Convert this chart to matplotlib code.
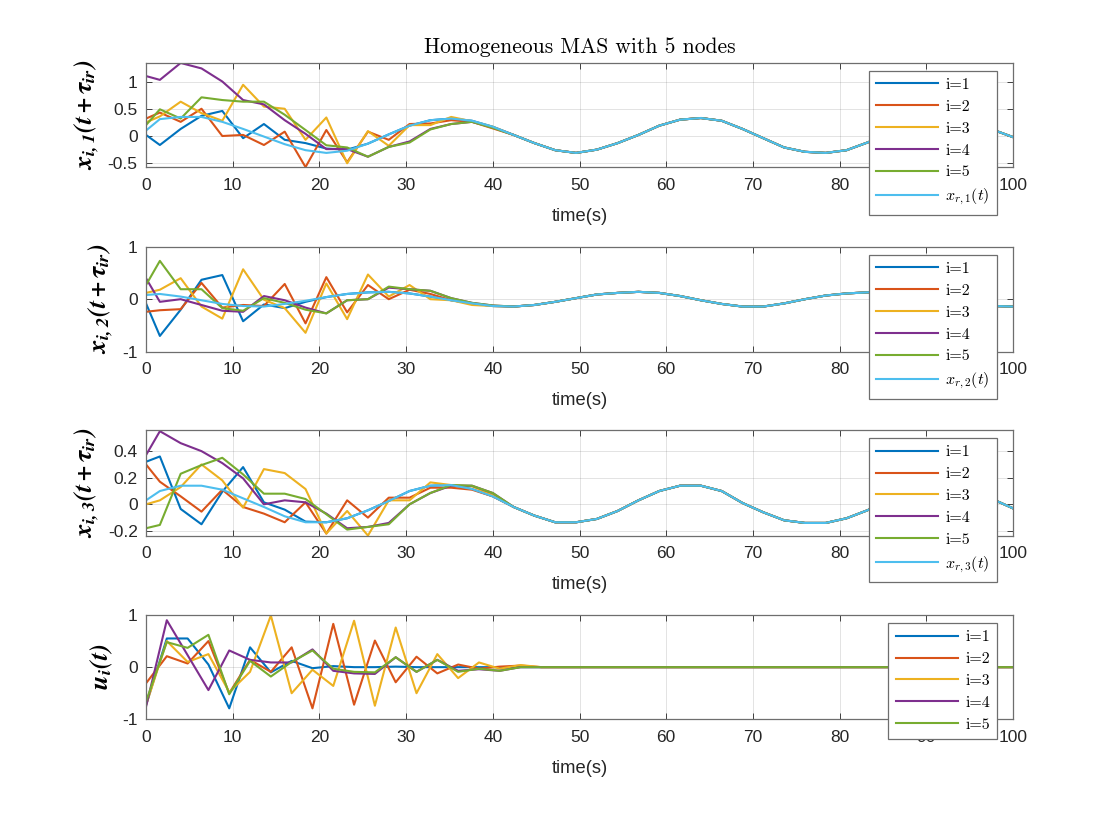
import matplotlib
matplotlib.use("Agg")
import matplotlib.pyplot as plt

plt.rcParams["font.family"] = ["Liberation Sans", "DejaVu Sans"]
plt.rcParams["mathtext.fontset"] = "cm"
plt.rcParams["axes.unicode_minus"] = False

# sample times of the states (shifted by tau) and of the inputs
t_x = [0, 1.6, 4.0, 6.4, 8.8, 11.2, 13.6, 16.0, 18.4, 20.8, 23.2, 25.6, 28.0,
       30.4, 32.8, 35.2, 37.6, 40.0, 42.4, 44.8, 47.2, 49.6, 52.0, 54.4, 56.8,
       59.2, 61.6, 64.0, 66.4, 68.8, 71.2, 73.6, 76.0, 78.4, 80.8, 83.2, 85.6,
       88.0, 90.4, 92.8, 95.2, 97.6, 100.0]
t_u = [0, 2.4, 4.8, 7.2, 9.6, 12.0, 14.4, 16.8, 19.2, 21.6, 24.0, 26.4, 28.8,
       31.2, 33.6, 36.0, 38.4, 40.8, 43.2, 45.6, 48.0, 50.4, 52.8, 55.2, 57.6,
       60.0, 62.4, 64.8, 67.2, 69.6, 72.0, 74.4, 76.8, 79.2, 81.6, 84.0, 86.4,
       88.8, 91.2, 93.6, 96.0, 98.4, 100.0]

# reference trajectories x_r(t)
xr1 = [0.10, 0.31, 0.35, 0.35, 0.26, 0.13, -0.01, -0.15, -0.26, -0.31, -0.27,
       -0.14, 0.03, 0.19, 0.29, 0.32, 0.28, 0.17, 0.02, -0.13, -0.26, -0.31,
       -0.25, -0.13, 0.02, 0.19, 0.30, 0.33, 0.28, 0.13, -0.04, -0.21, -0.29,
       -0.31, -0.26, -0.12, 0.03, 0.19, 0.29, 0.32, 0.27, 0.12, -0.02]
xr2 = [0.08, 0.10, 0.05, -0.02, -0.09, -0.13, -0.14, -0.09, -0.03, 0.04, 0.10,
       0.13, 0.14, 0.11, 0.05, -0.02, -0.08, -0.13, -0.14, -0.11, -0.05, 0.02,
       0.09, 0.12, 0.14, 0.12, 0.06, -0.02, -0.09, -0.14, -0.14, -0.08, 0.0,
       0.07, 0.11, 0.13, 0.14, 0.12, 0.06, -0.02, -0.09, -0.13, -0.14]
xr3 = [0.03, 0.10, 0.14, 0.14, 0.11, 0.045, -0.02, -0.09, -0.135, -0.135,
       -0.105, -0.045, 0.025, 0.10, 0.14, 0.145, 0.115, 0.06, -0.02, -0.085,
       -0.135, -0.135, -0.11, -0.05, 0.03, 0.10, 0.14, 0.14, 0.10, 0.01, -0.06,
       -0.12, -0.14, -0.14, -0.105, -0.045, 0.025, 0.10, 0.14, 0.145, 0.11,
       0.04, -0.03]

# node states before they settle on the reference (t = 0 .. 40)
x1_nodes = [
    [0.02, -0.165, 0.13, 0.37, 0.46, -0.04, 0.22, -0.07, -0.13, -0.23, -0.25,
     -0.14, 0.03, 0.19, 0.29, 0.32, 0.28, 0.17],
    [0.32, 0.43, 0.26, 0.50, 0.0, 0.02, -0.165, 0.08, -0.57, 0.11, -0.48,
     0.08, -0.07, 0.22, 0.23, 0.29, 0.26, 0.14],
    [0.25, 0.36, 0.63, 0.42, 0.28, 0.94, 0.54, 0.50, -0.07, 0.34, -0.50, 0.09,
     -0.18, 0.20, 0.20, 0.35, 0.27, 0.17],
    [1.10, 1.03, 1.34, 1.24, 1.0, 0.66, 0.58, 0.29, 0.04, -0.24, -0.24, -0.38,
     -0.20, -0.10, 0.13, 0.22, 0.26, 0.16],
    [0.20, 0.49, 0.32, 0.71, 0.66, 0.63, 0.63, 0.39, 0.11, -0.17, -0.21,
     -0.38, -0.20, -0.12, 0.12, 0.22, 0.26, 0.15],
]
x2_nodes = [
    [-0.08, -0.70, -0.20, 0.37, 0.46, -0.42, -0.10, -0.17, -0.05, 0.04, 0.10,
     0.13, 0.14, 0.11, 0.05, -0.02, -0.08, -0.13],
    [-0.24, -0.21, -0.19, 0.31, -0.16, -0.11, -0.13, 0.29, -0.46, 0.42, -0.25,
     0.27, 0.0, 0.18, 0.10, -0.02, -0.08, -0.13],
    [0.12, 0.18, 0.40, -0.14, -0.37, 0.57, -0.01, -0.17, -0.64, 0.30, -0.38,
     0.47, 0.05, 0.27, 0.0, -0.02, -0.11, -0.13],
    [0.40, -0.05, 0.0, -0.11, -0.22, -0.24, 0.06, -0.02, -0.16, -0.27, -0.02,
     0.0, 0.22, 0.19, 0.16, 0.02, -0.07, -0.12],
    [0.27, 0.73, 0.19, 0.19, -0.17, -0.22, 0.02, -0.07, -0.20, -0.27, -0.02,
     0.0, 0.24, 0.19, 0.16, 0.02, -0.07, -0.12],
]
x3_nodes = [
    [0.32, 0.36, -0.035, -0.15, 0.095, 0.28, 0.015, -0.04, -0.13, -0.135,
     -0.105, -0.045, 0.025, 0.10, 0.14, 0.145, 0.115, 0.06],
    [0.30, 0.17, 0.06, -0.055, 0.11, -0.02, -0.07, -0.135, 0.015, -0.22, 0.03,
     -0.10, 0.05, 0.05, 0.125, 0.125, 0.11, 0.06],
    [0.0, 0.03, 0.13, 0.30, 0.18, -0.025, 0.265, 0.235, 0.115, -0.22, -0.05,
     -0.235, 0.03, 0.03, 0.165, 0.145, 0.135, 0.07],
    [0.37, 0.55, 0.46, 0.40, 0.31, 0.195, 0.0, 0.03, 0.015, -0.07, -0.18,
     -0.17, -0.14, 0.0, 0.085, 0.14, 0.14, 0.085],
    [-0.18, -0.155, 0.23, 0.295, 0.35, 0.225, 0.08, 0.08, 0.04, -0.075, -0.19,
     -0.17, -0.15, 0.0, 0.085, 0.145, 0.14, 0.085],
]

# control inputs until they die out (afterwards zero)
u_nodes = [
    [-0.73, 0.55, 0.55, 0.05, -0.79, 0.38, -0.10, 0.12, -0.02, 0.02, 0.0,
     0.0, 0.01, 0.0],
    [-0.31, 0.21, 0.07, 0.50, -0.50, 0.14, -0.09, 0.38, -0.79, 0.83, -0.72,
     0.51, -0.29, 0.20, -0.12, 0.05, -0.03, 0.01, 0.03, 0.0],
    [-0.73, 0.50, 0.10, 0.25, -0.48, -0.09, 0.99, -0.50, -0.05, -0.36, 0.89,
     -0.74, 0.76, -0.50, 0.25, -0.21, 0.09, -0.03, 0.04, 0.0],
    [-0.76, 0.90, 0.23, -0.44, 0.32, 0.14, 0.09, 0.09, 0.34, -0.07, -0.12,
     -0.13, 0.19, -0.09, 0.14, -0.07, -0.04, -0.07, 0.0],
    [-0.66, 0.48, 0.37, 0.62, -0.52, 0.12, -0.18, 0.10, 0.32, -0.03, -0.09,
     -0.10, 0.19, -0.09, 0.14, -0.09, -0.03, -0.07, 0.0],
]

labels = ["i=1", "i=2", "i=3", "i=4", "i=5"]
colors = ["#0072BD", "#D95319", "#EDB120", "#7E2F8E", "#77AC30"]
ref_color = "#4DBEEE"
ink = "#262626"

W, H = 1120, 840
fig = plt.figure(figsize=(11.2, 8.4), dpi=100)


def make_axes(top, bottom):
    return fig.add_axes([146 / W, 1 - bottom / H, 867 / W, (bottom - top) / H])


def style(ax, ylim, yticks, yticklabels, ylabel):
    ax.set_xlim(0, 100)
    ax.set_ylim(*ylim)
    ax.set_xticks(range(0, 101, 10))
    ax.set_yticks(yticks, yticklabels)
    ax.grid(True, color=ink, alpha=0.15, linewidth=0.6)
    ax.set_axisbelow(True)
    ax.tick_params(direction="in", top=True, right=True, length=4.5,
                   width=0.6, colors=ink, labelsize=12.5)
    ax.tick_params(axis="x", pad=7.5)
    ax.tick_params(axis="y", pad=6)
    for s in ax.spines.values():
        s.set_color("#6e6e6e")
        s.set_linewidth(0.9)
    ax.set_xlabel("time(s)", fontsize=13.2, color=ink, labelpad=11)
    ax.set_ylabel(ylabel, fontsize=19, math_fontfamily="stix", labelpad=5)


def add_legend(ax, top):
    leg = ax.legend(loc="upper right", bbox_to_anchor=(997 / W, 1 - (top + 8) / H),
                    bbox_transform=fig.transFigure, borderaxespad=0,
                    fancybox=False, framealpha=1, edgecolor="#6e6e6e",
                    prop={"family": "cmr10", "size": 11.5},
                    handlelength=3.9, handletextpad=0.45, labelspacing=0.48,
                    borderpad=0.45)
    leg.get_frame().set_linewidth(0.9)
    leg.set_zorder(10)
    return leg


panels = [
    (62.7, 167.3, x1_nodes, xr1, (-0.574, 1.345), [-0.5, 0, 0.5, 1],
     ["-0.5", "0", "0.5", "1"], r"$\mathbfit{x_{i,1}(t+\tau_{ir})}$",
     r"$x_{r,1}(t)$"),
    (246.7, 351.7, x2_nodes, xr2, (-1, 1), [-1, 0, 1], ["-1", "0", "1"],
     r"$\mathbfit{x_{i,2}(t+\tau_{ir})}$", r"$x_{r,2}(t)$"),
    (430.0, 535.7, x3_nodes, xr3, (-0.236, 0.559), [-0.2, 0, 0.2, 0.4],
     ["-0.2", "0", "0.2", "0.4"], r"$\mathbfit{x_{i,3}(t+\tau_{ir})}$",
     r"$x_{r,3}(t)$"),
]

axes = []
for top, bottom, nodes, ref, ylim, yt, ytl, ylab, reflab in panels:
    ax = make_axes(top, bottom)
    for vals, c, lab in zip(nodes, colors, labels):
        series = vals + ref[len(vals):]
        ax.plot(t_x, series, color=c, linewidth=1.5, label=lab)
    ax.plot(t_x, ref, color=ref_color, linewidth=1.5, label=reflab)
    style(ax, ylim, yt, ytl, ylab)
    add_legend(ax, top)
    axes.append(ax)

ax4 = make_axes(615.0, 719.3)
for vals, c, lab in zip(u_nodes, colors, labels):
    series = vals + [0.0] * (len(t_u) - len(vals))
    ax4.plot(t_u, series, color=c, linewidth=1.5, label=lab)
style(ax4, (-1, 1), [-1, 0, 1], ["-1", "0", "1"], r"$\mathbfit{u_i(t)}$")
add_legend(ax4, 615.0)

axes[0].set_title("Homogeneous MAS with 5 nodes", fontfamily="cmr10",
                  fontsize=15.5, color="#000000", pad=7)

fig.savefig("out.png", dpi=100)
